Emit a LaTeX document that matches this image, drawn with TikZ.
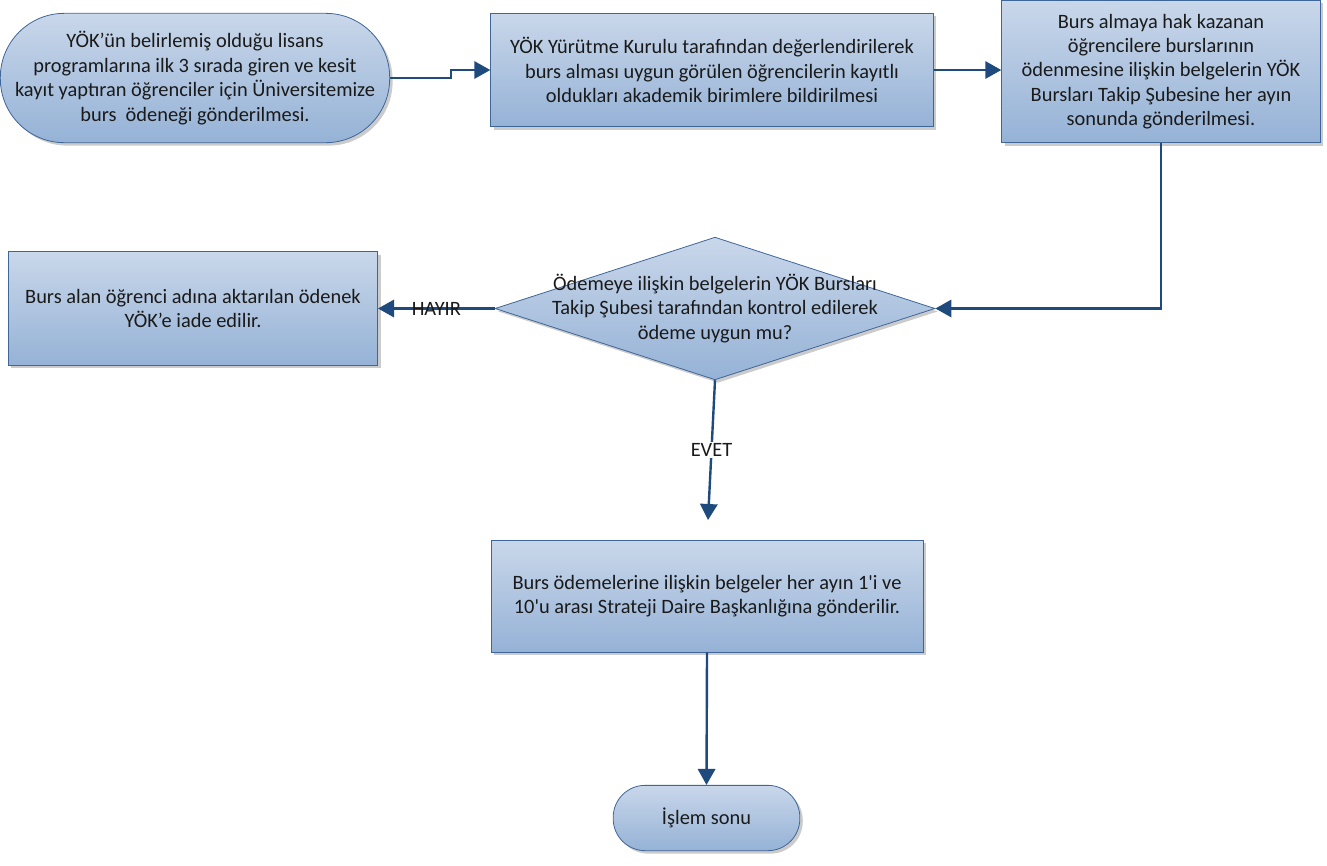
\documentclass[tikz,border=0pt]{standalone}
\usepackage{fontspec}
\setmainfont{Carlito}
\usetikzlibrary{shapes.geometric,shadows,arrows.meta}
\definecolor{boxtop}{HTML}{C9D7EA}
\definecolor{boxbottom}{HTML}{95B2D6}
\definecolor{boxline}{HTML}{3F6699}
\definecolor{arrowblue}{HTML}{1F4A7E}
\definecolor{textgray}{HTML}{1A1A1A}
\tikzset{
    flowbox/.style={rectangle, draw=boxline, line width=0.6pt,
        top color=boxtop, bottom color=boxbottom,
        drop shadow={shadow xshift=2.2pt, shadow yshift=-2.2pt, fill=black!45, opacity=0.45},
        align=center, text=textgray, inner sep=2pt,
        font=\fontsize{15.3}{18.3}\selectfont},
    decbox/.style={flowbox, diamond, aspect=3.08, inner sep=-16pt},
    conn/.style={->, draw=arrowblue, line width=1.8pt},
    connlabel/.style={text=textgray, font=\fontsize{15.3}{18.3}\selectfont, inner sep=1pt}
}
\begin{document}
\begin{tikzpicture}[x=0.75pt,y=-0.75pt,>={Triangle[length=12pt,width=13pt]}]
    \useasboundingbox (0,0) rectangle (1327,865);
    % steps
    \node[flowbox, rounded corners=48pt, minimum width=292pt, minimum height=97pt] (start) at (195,78)
        {YÖK’ün belirlemiş olduğu lisans\\programlarına ilk 3 sırada giren ve kesit\\kayıt yaptıran öğrenciler için Üniversitemize\\burs \ ödeneği gönderilmesi.};
    \node[flowbox, minimum width=332pt, minimum height=85pt] (notify) at (712,70)
        {YÖK Yürütme Kurulu tarafından değerlendirilerek\\burs alması uygun görülen öğrencilerin kayıtlı\\oldukları akademik birimlere bildirilmesi};
    \node[flowbox, minimum width=239pt, minimum height=107pt] (send) at (1161,71.5)
        {Burs almaya hak kazanan\\öğrencilere burslarının\\ödenmesine ilişkin belgelerin YÖK\\Bursları Takip Şubesine her ayın\\sonunda gönderilmesi.};
    \node[decbox, minimum width=330pt, minimum height=107pt] (check) at (715,308.5)
        {Ödemeye ilişkin belgelerin YÖK Bursları\\Takip Şubesi tarafından kontrol edilerek\\ödeme uygun mu?};
    \node[flowbox, minimum width=277pt, minimum height=85pt] (refund) at (193,308.5)
        {Burs alan öğrenci adına aktarılan ödenek\\YÖK’e iade edilir.};
    \node[flowbox, minimum width=324pt, minimum height=84pt] (strategy) at (707,596)
        {Burs ödemelerine ilişkin belgeler her ayın 1\textquotesingle i ve\\10\textquotesingle u arası Strateji Daire Başkanlığına gönderilir.};
    \node[flowbox, rounded corners=24pt, minimum width=140pt, minimum height=49pt] (finish) at (706.5,818)
        {İşlem sonu};
    % connectors
    \draw[conn] (start.east) -- ++(61,0) |- (notify.west);
    \draw[conn] (notify.east) -- (notify.east -| send.west);
    \draw[conn] (send.south) |- (check.east);
    \draw[conn] (check.west) -- node[connlabel]{HAYIR} (refund.east);
    \coordinate (yesend) at (708,520);
    \draw[conn] (check.south) -- node[connlabel, fill=white]{EVET} (yesend);
    \draw[conn] (strategy.south) -- (finish.north);
\end{tikzpicture}
\end{document}
